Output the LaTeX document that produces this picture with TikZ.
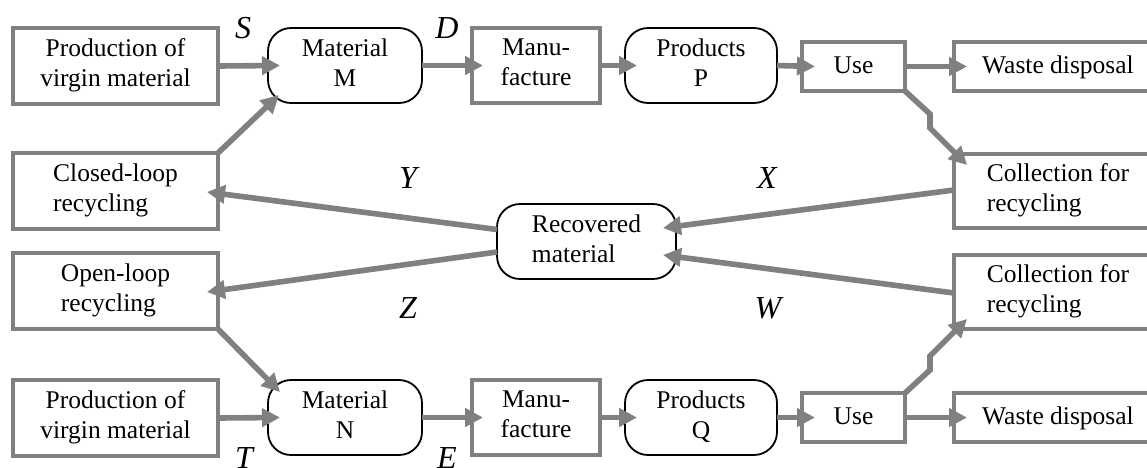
\documentclass[tikz,border=0pt]{standalone}
\usepackage{fontspec}
\setmainfont{Liberation Serif}
\usetikzlibrary{arrows.meta,calc}
\definecolor{flowgray}{HTML}{808080}
\newcommand\mystrut{\rule[-6pt]{0pt}{26pt}}
\begin{document}
\begin{tikzpicture}[x=1pt,y=-1pt,
  every node/.style={inner sep=0pt,outer sep=0pt},
  txt/.style={font=\fontsize{25.5}{30}\selectfont, align=center,
    execute at begin node=\mystrut, execute at end node=\mystrut},
  gbox/.style={txt, draw=flowgray, line width=3.2pt},
  rbox/.style={txt, draw=black, line width=1.8pt, rounded corners=23pt},
  lab/.style={font=\fontsize{32}{38}\selectfont\itshape, anchor=base},
  arr/.style={draw=flowgray, line width=5.6pt, line join=miter,
    -{Triangle[length=18pt,width=18pt]}}
]
\useasboundingbox (0,0) rectangle (1147,467);
% top row
\node[gbox, minimum width=205pt, minimum height=76pt] (prodM) at (115.5,66) {Production of\\virgin material};
\node[rbox, minimum width=154pt, minimum height=75pt] (matM) at (345,65.5) {Material\\M};
\node[gbox, minimum width=128pt, minimum height=75pt] (manP) at (536,65.5) {Manu-\\facture};
\node[rbox, minimum width=152pt, minimum height=75pt] (prodP) at (701,65.5) {Products\\P};
\node[gbox, minimum width=103pt, minimum height=49pt] (useP) at (853.5,66.5) {Use};
\node[gbox, minimum width=208pt, minimum height=49pt] (wasteP) at (1058,66.5) {Waste disposal};
% middle
\node[gbox, align=left, minimum width=205pt, minimum height=76pt] (closed) at (115.5,191) {Closed-loop\\recycling};
\node[gbox, align=left, minimum width=208pt, minimum height=74pt] (collX) at (1058,191) {Collection for\\recycling};
\node[rbox, align=left, minimum width=179pt, minimum height=75pt] (recov) at (586.5,241.5) {Recovered\\material};
\node[gbox, align=left, minimum width=205pt, minimum height=76pt] (open) at (115.5,291) {Open-loop\\recycling};
\node[gbox, align=left, minimum width=208pt, minimum height=74pt] (collW) at (1058,292) {Collection for\\recycling};
% bottom row
\node[gbox, minimum width=205pt, minimum height=76pt] (prodN) at (115.5,418) {Production of\\virgin material};
\node[rbox, minimum width=154pt, minimum height=75pt] (matN) at (345,417.5) {Material\\N};
\node[gbox, minimum width=128pt, minimum height=75pt] (manQ) at (536,417.5) {Manu-\\facture};
\node[rbox, minimum width=152pt, minimum height=75pt] (prodQ) at (701,417.5) {Products\\Q};
\node[gbox, minimum width=103pt, minimum height=49pt] (useQ) at (853.5,417.5) {Use};
\node[gbox, minimum width=208pt, minimum height=49pt] (wasteQ) at (1058,417.5) {Waste disposal};
% labels
\node[lab] (S) at (243,38) {S};
\node[lab] (D) at (447,38) {D};
\node[lab] (Y) at (408,188) {Y};
\node[lab] (X) at (767,188) {X};
\node[lab] (Z) at (408,318) {Z};
\node[lab] (W) at (768,318) {W};
\node[lab] (T) at (244,468) {T};
\node[lab] (E) at (447,468) {E};
% top flows
\draw[arr] (prodM.east) -- ([xshift=12pt]matM.west);
\draw[arr] (matM.east) -- ([xshift=11pt]manP.west);
\draw[arr] (manP.east) -- ([xshift=12pt]prodP.west);
\draw[arr] (prodP.east) -- ([xshift=13pt]useP.west);
\draw[arr] (useP.east) -- ([xshift=13pt]wasteP.west);
\draw[arr] (useP.south east) -- ++(25,23) -- ++(0,14) -- ($(collX.north west)+(13,11)$);
% bottom flows
\draw[arr] (prodN.east) -- ([xshift=12pt]matN.west);
\draw[arr] (matN.east) -- ([xshift=11pt]manQ.west);
\draw[arr] (manQ.east) -- ([xshift=12pt]prodQ.west);
\draw[arr] (prodQ.east) -- ([xshift=13pt]useQ.west);
\draw[arr] (useQ.east) -- ([xshift=13pt]wasteQ.west);
\draw[arr] (useQ.north east) -- ++(25,-23) -- ++(0,-14) -- ($(collW.south west)+(13,-10)$);
% recycling flows
\draw[arr] ($(collX.west)+(0,-1)$) -- ($(recov.east)+(-13,-13.5)$);
\draw[arr] ($(collW.west)+(0,1)$) -- ($(recov.east)+(-13,13.5)$);
\draw[arr] ($(recov.west)+(0,-12)$) -- ($(closed.east)+(-11,1)$);
\draw[arr] ($(recov.west)+(0,10.5)$) -- ($(open.east)+(-11,1)$);
\draw[arr] (closed.north east) -- ($(matM.south west)+(11,-8)$);
\draw[arr] (open.south east) -- ($(matN.north west)+(12,12)$);
\end{tikzpicture}
\end{document}
